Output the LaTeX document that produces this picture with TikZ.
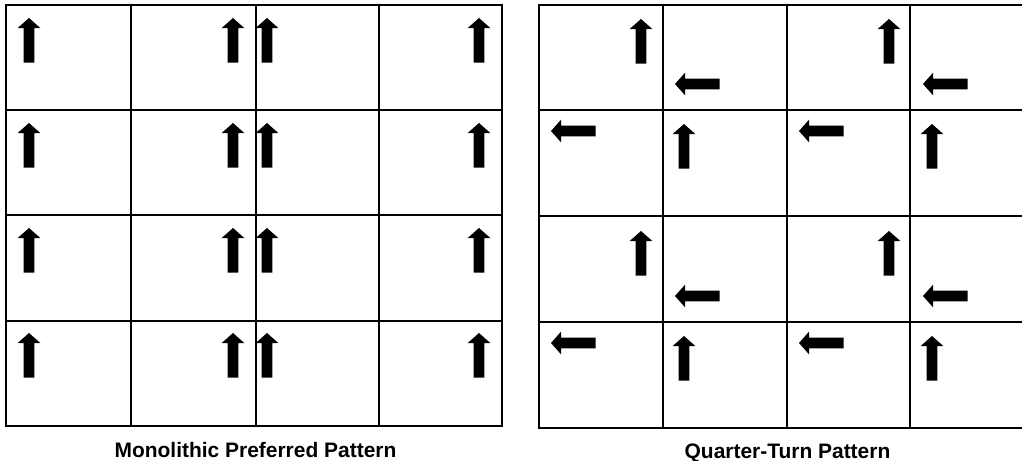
\documentclass[tikz,border=0pt]{standalone}
\usepackage{fontspec}
\setmainfont{Liberation Sans}
\begin{document}
\begin{tikzpicture}[x=0.025cm,y=-0.025cm,
  gridline/.style={line width=1.4pt},
  caption/.style={font=\fontsize{14.9}{18}\selectfont\bfseries, anchor=base},
  uparrow/.pic={\fill (0,0) -- (11.3,10) -- (5.3,10) -- (5.3,44.5) -- (-5.3,44.5) -- (-5.3,10) -- (-11.3,10) -- cycle;},
  leftarrow/.pic={\fill (0,0) -- (10,-11.3) -- (10,-5.3) -- (44.5,-5.3) -- (44.5,5.3) -- (10,5.3) -- (10,11.3) -- cycle;}]
\useasboundingbox (0,0) rectangle (1022,461);
\clip (0,0) rectangle (1022,461);
% monolithic grid
\draw[gridline] (6,5) rectangle (502,426);
\foreach \x in {131,256,379} \draw[gridline] (\x,5) -- (\x,426);
\foreach \y in {110,215,321} \draw[gridline] (6,\y) -- (502,\y);
\foreach \y in {18,123,228,333}
  \foreach \x in {29,233,267,479}
    \pic at (\x,\y) {uparrow};
% quarter-turn grid
\draw[gridline] (539,5) rectangle (1034,428);
\foreach \x in {663,787,910} \draw[gridline] (\x,5) -- (\x,428);
\foreach \y in {110,216,322} \draw[gridline] (539,\y) -- (1034,\y);
\foreach \r in {0,212}
  \foreach \c in {0,248} {
    \pic at (641+\c,19+\r) {uparrow};
    \pic at (675+\c,84+\r) {leftarrow};
    \pic at (551+\c,131+\r) {leftarrow};
    \pic at (684+\c,124+\r) {uparrow};
  }
\node[caption] (lblmono) at (255.5,457.5) {Monolithic Preferred Pattern};
\node[caption] (lblquarter) at (787.5,458) {Quarter-Turn Pattern};
\end{tikzpicture}
\end{document}
